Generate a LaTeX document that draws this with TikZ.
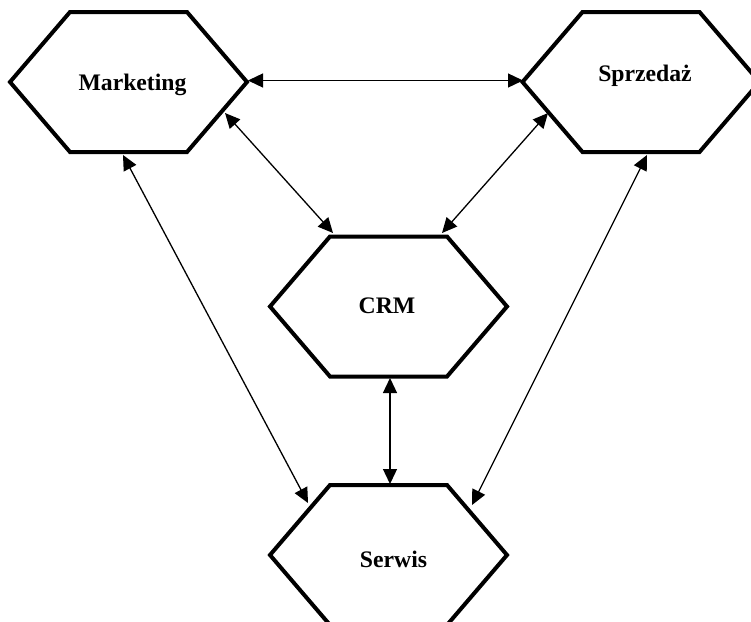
\documentclass[tikz,border=0pt]{standalone}
\usepackage{fontspec}
\setmainfont{Liberation Serif}
\usetikzlibrary{arrows.meta}
\tikzset{
  hexa/.style={line width=4pt, line join=miter, draw=black},
  lbl/.style={anchor=base, font=\fontsize{23.7}{28}\selectfont\bfseries, inner sep=0pt},
  link/.style={line width=1.3pt, {Triangle[length=15pt,width=14pt]}-{Triangle[length=15pt,width=14pt]}}
}
\newcommand{\hexpath}[3]{%
  \draw[hexa] (#1-118.5,#2) -- (#1-58.5,#2-70) -- (#1+58.5,#2-70) -- (#1+118.5,#2) -- (#1+58.5,#2+70) -- (#1-58.5,#2+70) -- cycle;
  \coordinate (#3) at (#1,#2);}
\begin{document}
\begin{tikzpicture}[x=1pt,y=-1pt]
\useasboundingbox (0,0) rectangle (751,621);
\begin{scope}
\clip (0,0) rectangle (751,621);
\hexpath{128.5}{82}{mk}
\hexpath{641}{82}{sp}
\hexpath{388.5}{306.5}{crm}
\hexpath{388.5}{555}{sw}
\end{scope}
\node[lbl] (tmk) at (132.5,90) {Marketing};
\node[lbl] (tsp) at (645,81) {Sprzedaż};
\node[lbl] (tcrm) at (387,313) {CRM};
\node[lbl] (tsw) at (393.5,567) {Serwis};
% connector end points
\coordinate (a1) at (248,80.5);
\coordinate (a2) at (523,80.5);
\coordinate (b1) at (225,113);
\coordinate (b2) at (333,233);
\coordinate (c1) at (548,113);
\coordinate (c2) at (442,233);
\coordinate (d1) at (123,155);
\coordinate (d2) at (308,503);
\coordinate (e1) at (647,155);
\coordinate (e2) at (472,505);
\coordinate (f1) at (390,378);
\coordinate (f2) at (390,484);
\draw[link] (a1) -- (a2);
\draw[link] (b1) -- (b2);
\draw[link] (c1) -- (c2);
\draw[link] (d1) -- (d2);
\draw[link] (e1) -- (e2);
\draw[link] (f1) -- (f2);
\end{tikzpicture}
\end{document}
